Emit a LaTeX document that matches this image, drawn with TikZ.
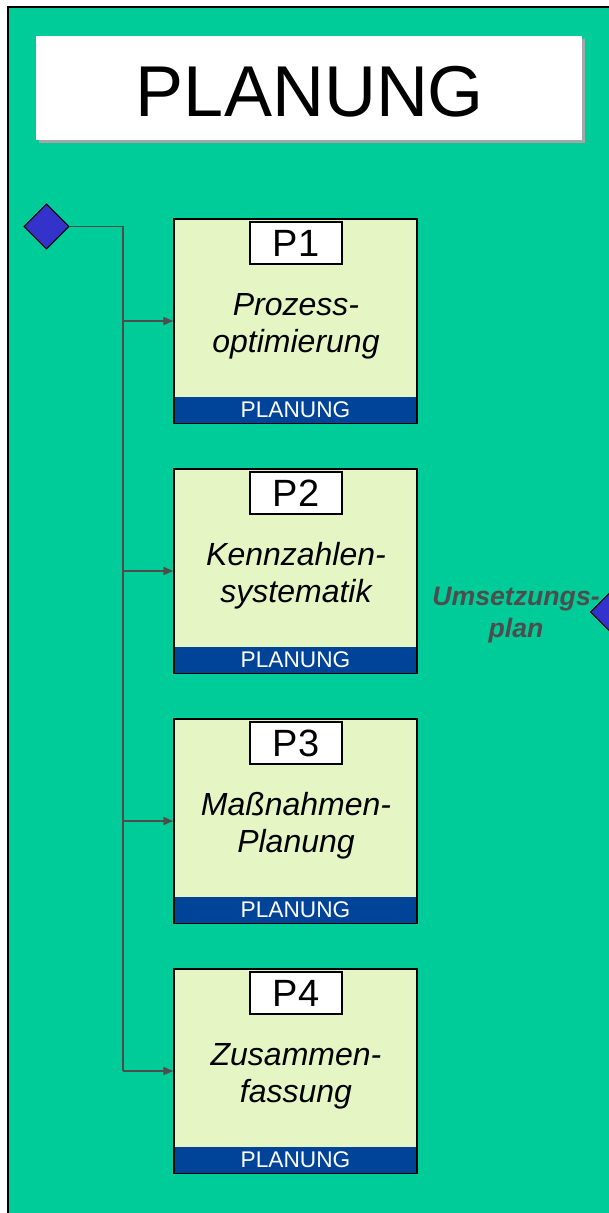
\documentclass[tikz,border=0pt]{standalone}
\usepackage{fontspec}
\setmainfont{Liberation Sans}
\usetikzlibrary{shapes.geometric,arrows.meta}
\definecolor{panelgreen}{HTML}{00CC99}
\definecolor{boxfill}{HTML}{E6F5C4}
\definecolor{barblue}{HTML}{004499}
\definecolor{diafill}{HTML}{3333CC}
\definecolor{linegray}{HTML}{4D4D4D}
\tikzset{
  procbox/.style={draw=black, line width=1pt, fill=boxfill, minimum width=182.25pt, minimum height=153pt, inner sep=0pt},
  barbox/.style={fill=barblue, text=white, minimum width=181pt, minimum height=19.5pt, inner sep=0pt, font=\fontsize{17}{17}\selectfont},
  idbox/.style={draw=black, line width=0.8pt, fill=white, minimum width=69pt, minimum height=31.5pt, inner sep=0pt, font=\fontsize{28.5}{28.5}\selectfont},
  desc/.style={align=center, font=\fontsize{24}{28}\selectfont\itshape},
  dia/.style={diamond, aspect=1, draw=black, line width=0.8pt, fill=diafill, minimum width=34pt, minimum height=34pt, inner sep=0pt},
  conn/.style={draw=linegray, line width=1.4pt},
  arr/.style={conn, -{Triangle[length=7.5pt,width=6pt]}},
}
\begin{document}
\begin{tikzpicture}[x=0.75pt,y=-0.75pt]
\useasboundingbox (0,0) rectangle (608,1213);
% panel
\fill[panelgreen] (8,7) rectangle (640,1240);
\draw[black, line width=1.3pt] (8,1240) -- (8,7) -- (640,7);
% title
\fill[gray!70] (39,39) rectangle (585,143);
\fill[white] (36,36) rectangle (582,140);
\node[inner sep=0pt, font=\fontsize{54}{54}\selectfont] (title) at (310,92) {PLANUNG};
% left diamond and trunk
\node[dia] (dl) at (46.5,226.5) {};
\coordinate (t0) at (123,226.5);
\coordinate (t4) at (123,1071);
\draw[conn] (dl.east) -- (t0) -- (t4);
% boxes
\foreach \i/\y/\la/\lb in {1/321/Prozess-/optimierung, 2/571/Kennzahlen-/systematik, 3/821/Maßnahmen-/Planung, 4/1071/Zusammen-/fassung}{
  \node[procbox] (b\i) at (295.5,\y) {};
  \node[barbox, anchor=south] (bar\i) at ([yshift=0.5pt]b\i.south) {PLANUNG};
  \node[idbox] (id\i) at (296,\y-78) {P\i};
  \node[desc] (d\i) at (296,\y+5) {\la\\\lb};
  \draw[arr] (t0 |- b\i.west) -- (b\i.west);
}
% right side
\node[dia] (dr) at (613,612) {};
\node[align=center, text=linegray, font=\fontsize{20}{23.5}\selectfont\bfseries\itshape] (um) at (516,615) {Umsetzungs-\\plan};
\end{tikzpicture}
\end{document}
